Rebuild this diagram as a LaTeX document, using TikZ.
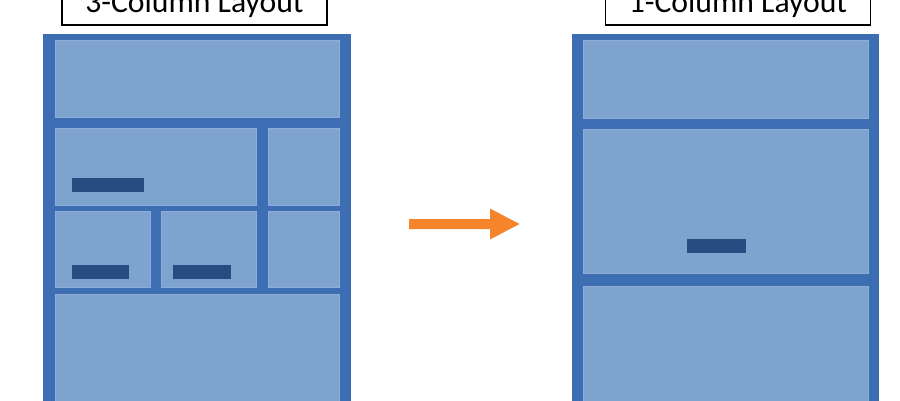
\documentclass[tikz,border=0pt]{standalone}
\usepackage{fontspec}
\setmainfont{Carlito}
\definecolor{framebl}{HTML}{3D6DB2}
\definecolor{panelbl}{HTML}{7FA3CF}
\definecolor{paneledge}{HTML}{8DAEDA}
\definecolor{barbl}{HTML}{264C82}
\definecolor{arrorange}{HTML}{F5842A}
\begin{document}
\begin{tikzpicture}[x=1pt,y=-1pt,
    panel/.style={fill=panelbl, draw=paneledge, line width=0.8pt},
    bar/.style={fill=barbl},
    caption/.style={draw=black, line width=1.6pt, fill=white, anchor=base,
      minimum width=265pt, inner xsep=0pt, inner ysep=5.5pt,
      text height=22pt, text depth=7pt, font=\fontsize{31.7}{38}\selectfont}]
     \useasboundingbox (0,0) rectangle (900,400);
     \clip (0,0) rectangle (900,400);

     % 3-column page
     \fill[framebl] (43,34) rectangle (351,420);
     \foreach \xa/\ya/\xb/\yb in {55/40/339/117, 55/128/256/205, 268/128/339/205,
        55/211/150/287, 161/211/256/287, 268/211/339/287, 55/294/339/420}
        \draw[panel] (\xa,\ya) rectangle (\xb,\yb);
     \fill[bar] (72,178) rectangle (144,192);
     \fill[bar] (72,265) rectangle (129,279);
     \fill[bar] (173,265) rectangle (231,279);
     \node[caption] (lay3) at (194.5,12.5) {3-Column Layout};

     % 1-column page
     \fill[framebl] (572,34) rectangle (879,420);
     \foreach \ya/\yb in {40/118, 129/273, 286/420}
        \draw[panel] (583,\ya) rectangle (868,\yb);
     \fill[bar] (687,239) rectangle (746,253);
     \node[caption] (lay1) at (738,12.5) {1-Column Layout};

     \fill[arrorange] (409,219)--(490,219)--(490,208.5)--(519.5,224)--(490,239.5)--(490,229)--(409,229)--cycle;
\end{tikzpicture}
\end{document}
